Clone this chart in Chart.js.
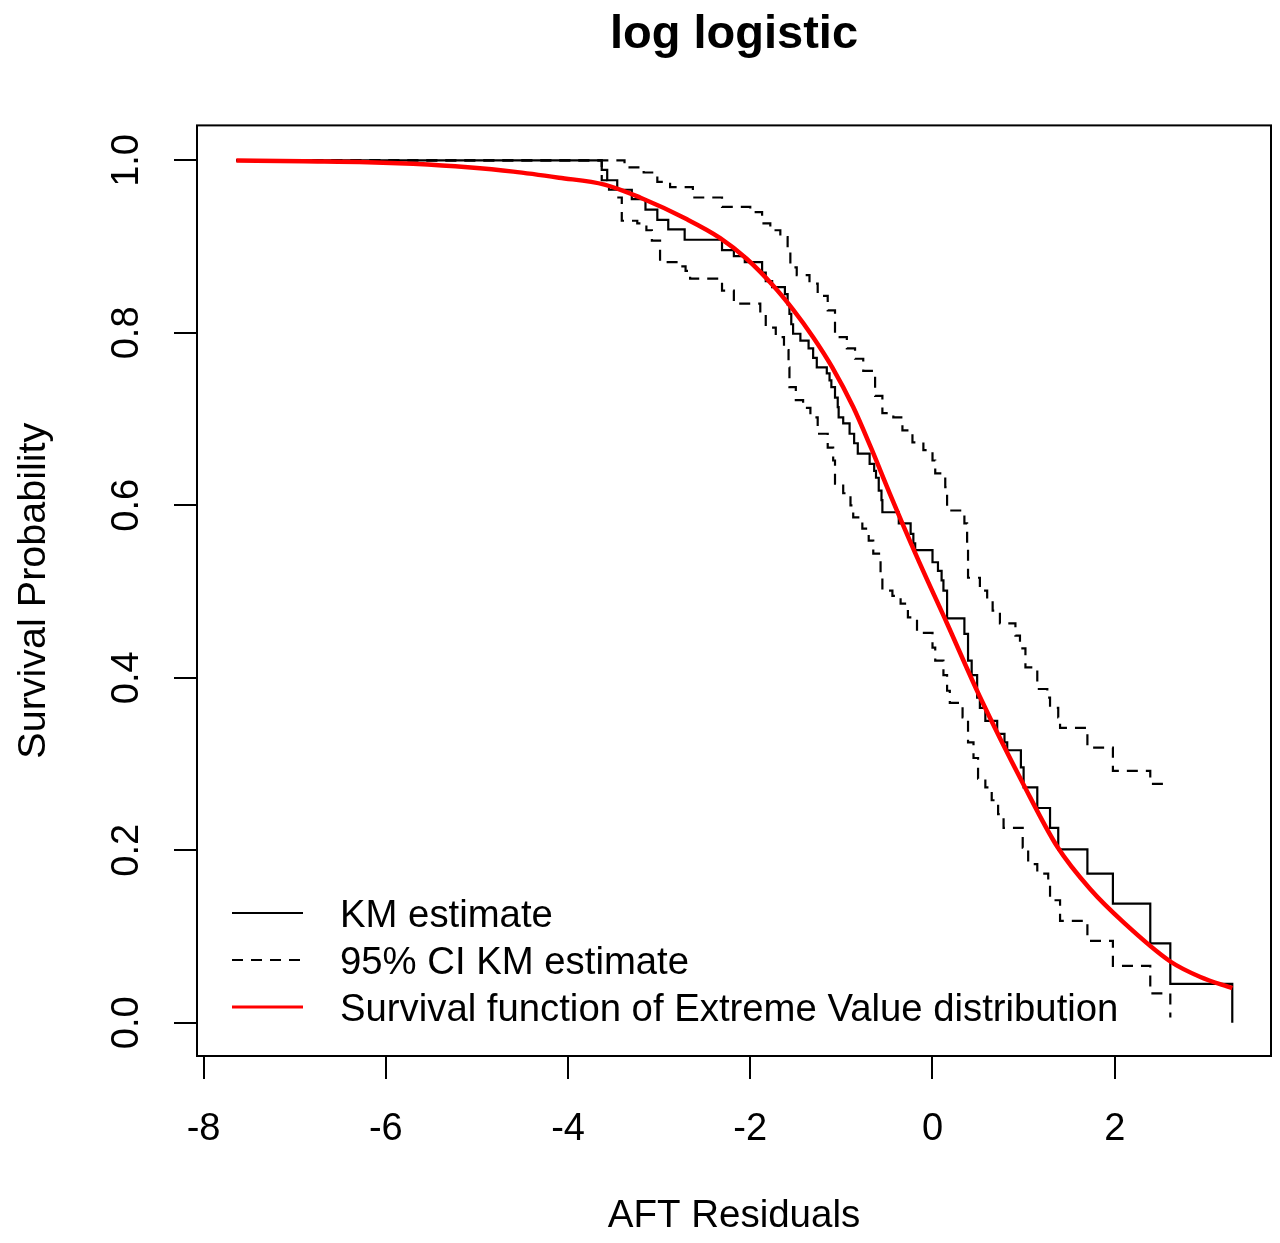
<!DOCTYPE html>
<html>
<head>
<meta charset="utf-8">
<script src="https://cdn.jsdelivr.net/npm/chart.js@4.4.1/dist/chart.umd.min.js"></script>
<style>
  html, body { margin: 0; padding: 0; background: #fff; }
</style>
</head>
<body>
<canvas id="c" width="1280" height="1243"></canvas>
<script>
// KM estimate (step function): x = residual, y = survival after the step
const kmX = [-7.64, -3.63, -3.57, -3.46, -3.30, -3.15, -3.02, -2.90, -2.72, -2.31, -2.18, -2.06,
  -1.87, -1.83, -1.76, -1.62, -1.59, -1.57, -1.55, -1.53, -1.45, -1.36, -1.31, -1.27, -1.16,
  -1.13, -1.11, -1.07, -1.04, -1.03, -0.98, -0.91, -0.86, -0.82, -0.69, -0.64, -0.62, -0.59,
  -0.56, -0.55, -0.37, -0.24, -0.21, -0.19, 0.00, 0.06, 0.10, 0.12, 0.16, 0.35, 0.39, 0.43,
  0.49, 0.52, 0.58, 0.71, 0.79, 0.82, 0.97, 1.00, 1.15, 1.29, 1.38, 1.70, 1.98, 2.39, 2.61, 3.29];
const kmY = [1.000, 0.989, 0.977, 0.966, 0.955, 0.943, 0.931, 0.920, 0.908, 0.896, 0.889, 0.882,
  0.870, 0.860, 0.853, 0.845, 0.833, 0.822, 0.810, 0.799, 0.791, 0.782, 0.771, 0.760, 0.753,
  0.745, 0.737, 0.725, 0.714, 0.702, 0.695, 0.683, 0.672, 0.660, 0.648, 0.640, 0.632, 0.617,
  0.606, 0.592, 0.579, 0.567, 0.556, 0.548, 0.534, 0.524, 0.513, 0.501, 0.469, 0.451, 0.420, 0.403,
  0.377, 0.365, 0.350, 0.335, 0.325, 0.316, 0.296, 0.273, 0.249, 0.226, 0.201, 0.173, 0.138, 0.092, 0.045, 0.000];

// 95% CI, upper
const upX = [-7.64, -3.38, -3.17, -3.02, -2.88, -2.63, -2.31, -2.00, -1.87, -1.78, -1.67, -1.59,
  -1.56, -1.49, -1.35, -1.26, -1.15, -1.07, -0.94, -0.85, -0.76, -0.63, -0.55, -0.43, -0.33,
  -0.22, -0.10, 0.00, 0.03, 0.14, 0.16, 0.35, 0.38, 0.39, 0.52, 0.60, 0.66, 0.74, 0.91, 0.96,
  1.02, 1.15, 1.26, 1.29, 1.38, 1.40, 1.70, 1.98, 2.39, 2.61];
const upY = [1.000, 0.992, 0.986, 0.975, 0.969, 0.957, 0.946, 0.940, 0.927, 0.919, 0.911, 0.899,
  0.876, 0.867, 0.857, 0.843, 0.826, 0.795, 0.782, 0.770, 0.756, 0.727, 0.707, 0.702, 0.687,
  0.673, 0.664, 0.652, 0.637, 0.621, 0.594, 0.579, 0.551, 0.516, 0.501, 0.490, 0.478, 0.463, 0.449, 0.434,
  0.412, 0.387, 0.377, 0.365, 0.354, 0.342, 0.319, 0.292, 0.277, 0.277];

// 95% CI, lower
const loX = [-7.64, -3.63, -3.55, -3.47, -3.41, -3.24, -3.14, -3.08, -2.99, -2.78, -2.71, -2.66,
  -2.31, -2.18, -1.89, -1.83, -1.72, -1.63, -1.58, -1.57, -1.50, -1.42, -1.34, -1.26, -1.15,
  -1.09, -1.07, -0.98, -0.90, -0.87, -0.77, -0.70, -0.65, -0.57, -0.55, -0.44, -0.35, -0.27,
  -0.17, 0.00, 0.03, 0.12, 0.16, 0.19, 0.33, 0.39, 0.45, 0.50, 0.58, 0.65, 0.72, 0.78, 0.99,
  1.05, 1.15, 1.27, 1.29, 1.40, 1.70, 1.98, 2.39, 2.61];
const loY = [1.000, 0.977, 0.966, 0.957, 0.930, 0.927, 0.919, 0.907, 0.882, 0.877, 0.872, 0.863,
  0.849, 0.834, 0.822, 0.806, 0.795, 0.780, 0.760, 0.737, 0.722, 0.713, 0.702, 0.683, 0.667,
  0.652, 0.625, 0.614, 0.600, 0.586, 0.573, 0.559, 0.544, 0.521, 0.501, 0.495, 0.486, 0.470,
  0.452, 0.435, 0.420, 0.403, 0.385, 0.371, 0.354, 0.325, 0.307, 0.283, 0.273, 0.258, 0.242, 0.226, 0.203,
  0.184, 0.173, 0.161, 0.142, 0.118, 0.095, 0.066, 0.034, 0.006];

// fitted survival curve (red)
const fitX = [-7.64, -6.90, -6.20, -5.70, -5.10, -4.60, -4.10, -3.60, -3.21, -2.70, -2.33, -2.04,
  -1.75, -1.53, -1.31, -1.10, -0.87, -0.68, -0.47, -0.17, 0.16, 0.52, 1.00, 1.37, 1.73, 2.10, 2.61, 2.94, 3.29];
const fitY = [1.000, 0.999, 0.998, 0.996, 0.992, 0.987, 0.980, 0.972, 0.957, 0.932, 0.910, 0.886,
  0.855, 0.827, 0.795, 0.760, 0.714, 0.668, 0.614, 0.540, 0.463, 0.378, 0.276, 0.204, 0.155, 0.116, 0.071, 0.053, 0.040];

const xRange = [-8.072, 3.715];
const yRange = [-0.0386, 1.0406];
const xStep = 2, yStep = 0.2;

const FONT = '"Liberation Sans", Arial, sans-serif';
const pts = (xs, ys) => xs.map((x, i) => ({ x, y: ys[i] }));

// box round the plot + legend inside it, bottom left (like R)
const rPlot = {
  id: "rPlot",
  afterDatasetsDraw(chart) {
    const { ctx, chartArea: a } = chart;
    ctx.save();
    ctx.strokeStyle = "#000";
    ctx.lineWidth = 2;
    ctx.strokeRect(a.left, a.top, a.right - a.left, a.bottom - a.top);

    const seen = new Set();
    const items = chart.data.datasets.filter((d) => {
      if (seen.has(d.label)) return false;
      seen.add(d.label);
      return true;
    });
    ctx.font = "38.3px " + FONT;
    ctx.textBaseline = "middle";
    items.forEach((d, i) => {
      const y = a.bottom - 143 + i * 47;
      ctx.beginPath();
      ctx.setLineDash(d.borderDash || []);
      ctx.strokeStyle = d.borderColor;
      ctx.lineWidth = d.label.startsWith("Survival") ? 3 : 2;
      ctx.moveTo(a.left + 35, y);
      ctx.lineTo(a.left + 106, y);
      ctx.stroke();
      ctx.setLineDash([]);
      ctx.fillStyle = "#000";
      ctx.fillText(d.label, a.left + 143, y + 3);
    });
    ctx.restore();
  },
};

const stepStyle = { borderColor: "#000", borderWidth: 2.2, pointRadius: 0, stepped: "before", fill: false };

new Chart(document.getElementById("c"), {
  type: "line",
  data: {
    datasets: [
      { label: "KM estimate", data: pts(kmX, kmY), order: 2, ...stepStyle },
      { label: "95% CI KM estimate", data: pts(upX, upY), order: 3, borderDash: [11, 8], ...stepStyle },
      { label: "95% CI KM estimate", data: pts(loX, loY), order: 3, borderDash: [11, 8], ...stepStyle },
      {
        label: "Survival function of Extreme Value distribution",
        data: pts(fitX, fitY),
        order: 1,
        borderColor: "#ff0000",
        borderWidth: 4.5,
        pointRadius: 0,
        cubicInterpolationMode: "monotone",
        fill: false,
      },
    ],
  },
  options: {
    responsive: false,
    animation: false,
    devicePixelRatio: 1,
    layout: { padding: { left: 0, right: 9, top: 0, bottom: 0 } },
    plugins: {
      legend: { display: false },
      tooltip: { enabled: false },
      title: {
        display: true,
        text: "log logistic",
        fullSize: false,
        color: "#000",
        font: { family: FONT, size: 47, weight: "bold", lineHeight: 1.2 },
        padding: { top: 7, bottom: 62 },
      },
    },
    scales: {
      x: {
        type: "linear",
        min: xRange[0],
        max: xRange[1],
        afterFit: (s) => { s.height = 187; },
        border: { display: false },
        grid: { drawOnChartArea: false, drawTicks: true, tickLength: 23, lineWidth: 2, color: "#000" },
        ticks: {
          stepSize: xStep,
          includeBounds: false,
          autoSkip: false,
          maxRotation: 0,
          color: "#000",
          padding: 28,
          font: { family: FONT, size: 38 },
        },
        title: {
          display: true,
          text: "AFT Residuals",
          color: "#000",
          font: { family: FONT, size: 38.5, lineHeight: 1.2 },
          padding: { top: 0, bottom: 4 },
        },
      },
      y: {
        type: "linear",
        min: yRange[0],
        max: yRange[1],
        afterFit: (s) => { s.width = 197; },
        border: { display: false },
        grid: { drawOnChartArea: false, drawTicks: true, tickLength: 23, lineWidth: 2, color: "#000" },
        ticks: {
          stepSize: yStep,
          includeBounds: false,
          minRotation: 90,
          maxRotation: 90,
          crossAlign: "center",
          padding: 20,
          color: "#000",
          font: { family: FONT, size: 38 },
          callback: (v) => v.toFixed(1),
        },
        title: {
          display: true,
          text: "Survival Probability",
          color: "#000",
          font: { family: FONT, size: 39.5, lineHeight: 1.2 },
          padding: { top: 10, bottom: 0 },
        },
      },
    },
  },
  plugins: [rPlot],
});
</script>
</body>
</html>
